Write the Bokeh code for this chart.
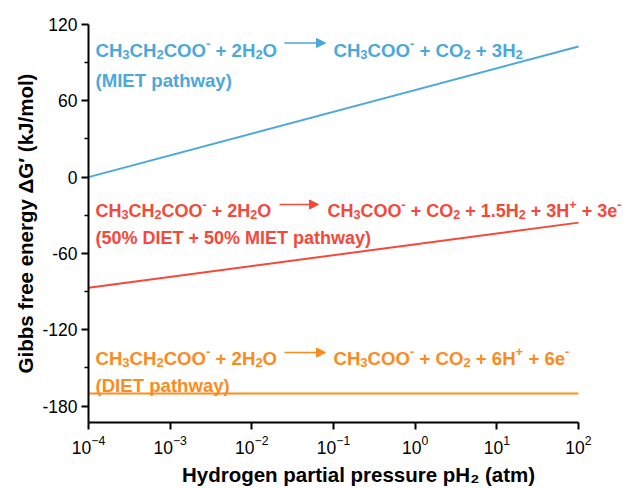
from bokeh.plotting import figure
from bokeh.models import Label, Arrow, NormalHead, FixedTicker, Range1d
from bokeh.embed import file_html
from bokeh.resources import INLINE

# ---- data ----
pH2 = [1e-4, 1e2]
dG_miet = [0.0, 102.7]
dG_mixed = [-87.0, -35.8]
dG_diet = [-170.2, -170.2]

x_ticks = [1e-4, 1e-3, 1e-2, 1e-1, 1e0, 1e1, 1e2]
y_ticks = [-180, -120, -60, 0, 60, 120]
y_tick_labels = ["-180", "-120", "-60", "0", "60", "120"]
y_minor = [-150, -90, -30, 30, 90]

# equations: "_x" = subscript char, "^x" = superscript char
lhs = "CH_3CH_2COO^- + 2H_2O"
rhs_miet = "CH_3COO^- + CO_2 + 3H_2"
rhs_mixed = "CH_3COO^- + CO_2 + 1.5H_2 + 3H^+ + 3e^-"
rhs_diet = "CH_3COO^- + CO_2 + 6H^+ + 6e^-"
name_miet = "(MIET pathway)"
name_mixed = "(50% DIET + 50% MIET pathway)"
name_diet = "(DIET pathway)"

BLUE = "#4ba8da"
RED = "#f5483b"
ORANGE = "#fd8b1c"
FONT = "Liberation Sans"

# Arial/Liberation Sans Bold advance widths (per 1000 em)
W = {" ": 278, "(": 333, ")": 333, "%": 889, "+": 584, "-": 333, ".": 278,
     "C": 722, "D": 722, "E": 667, "H": 722, "I": 278, "M": 833, "O": 778,
     "T": 611, "a": 556, "e": 556, "h": 611, "p": 611, "t": 333, "w": 778,
     "y": 556}
for d in "0123456789":
    W[d] = 556

X0, X1 = 1e-4, 1e2
L, R, T, B = 88, 578, 24, 422
PX_PER_UNIT = 1.2717
Y1 = 120
Y0 = Y1 - (B - T) / PX_PER_UNIT
X_END = 10 ** (-4 + (628 - L) * 6.0 / (R - L))

p = figure(width=628, height=488, x_axis_type="log",
           x_range=Range1d(X0, X_END), y_range=Range1d(Y0, Y1),
           output_backend="svg", toolbar_location=None,
           min_border_left=L, min_border_right=0,
           min_border_top=T, min_border_bottom=488 - B)
p.title.visible = False
p.outline_line_color = None
p.grid.visible = False
p.background_fill_color = "white"
p.border_fill_color = "white"

for ax in (p.xaxis[0], p.yaxis[0]):
    ax.axis_line_width = 2
    ax.major_tick_line_width = 2
    ax.minor_tick_line_width = 1.5
    ax.major_tick_in = 0
    ax.major_tick_out = 7
    ax.minor_tick_in = 0
    ax.minor_tick_out = 4
    ax.major_label_text_font = FONT
    ax.major_label_text_font_size = "17.5px"
    ax.major_label_text_color = "black"
    ax.axis_label_text_font = FONT
    ax.axis_label_text_font_size = "20.5px"
    ax.axis_label_text_font_style = "bold"
    ax.axis_label_text_color = "black"

p.xaxis.ticker = FixedTicker(ticks=x_ticks)
p.xaxis.bounds = (X0, X1)
p.xaxis.minor_tick_line_color = None
p.xaxis.major_label_standoff = 5
p.xaxis.axis_label = "Hydrogen partial pressure pH\u2082 (atm)"
p.xaxis.axis_label_standoff = 6

p.yaxis.ticker = FixedTicker(ticks=y_ticks, minor_ticks=y_minor)
p.yaxis.major_label_overrides = dict(zip(y_ticks, y_tick_labels))
p.yaxis.major_label_standoff = 4
p.yaxis.axis_label = "Gibbs free energy \u0394G\u2032 (kJ/mol)"
p.yaxis.axis_label_standoff = 2

p.line(pH2, dG_miet, line_color=BLUE, line_width=2)
p.line(pH2, dG_mixed, line_color=RED, line_width=2)
p.line(pH2, dG_diet, line_color=ORANGE, line_width=2)


def xd(px):
    return 10 ** (-4 + (px - L) * 6.0 / (R - L))


def yd(py):
    return Y1 - (py - T) / PX_PER_UNIT


def parse(s):
    segs = []
    i = 0
    while i < len(s):
        c = s[i]
        if c in "_^" and i + 1 < len(s):
            segs.append((s[i + 1], "sub" if c == "_" else "sup"))
            i += 2
        else:
            if segs and segs[-1][1] == "n":
                segs[-1] = (segs[-1][0] + c, "n")
            else:
                segs.append((c, "n"))
            i += 1
    return segs


def lab(text, px, py, color, size):
    p.add_layout(Label(x=xd(px), y=yd(py), text=text, text_color=color,
                       text_font=FONT, text_font_size=f"{size}px",
                       text_font_style="bold", text_baseline="alphabetic"))


def width(txt, fs):
    return sum(W.get(ch, 556) for ch in txt) * fs / 1000.0


def rich(s, px, py, color, size):
    x = px
    for txt, mode in parse(s):
        if mode == "n":
            fs, dy = size, 0.0
        elif mode == "sub":
            fs, dy = size * 0.7, size * 0.2
        else:
            fs, dy = size * 0.7, -size * 0.36
        core = txt.lstrip(" ")
        x += width(txt[:len(txt) - len(core)], fs)
        if core.strip():
            lab(core.rstrip(" "), x, py + dy, color, round(fs, 2))
        x += width(core, fs)


def arrow(px0, px1, py, color):
    p.add_layout(Arrow(end=NormalHead(size=9, fill_color=color, line_color=color,
                                      line_width=1),
                       line_color=color, line_width=1.5,
                       x_start=xd(px0), x_end=xd(px1), y_start=yd(py), y_end=yd(py)))


S_BIG, S_RED = 18.6, 18.0

rich(lhs, 95, 50, BLUE, S_BIG)
arrow(284, 325, 42.5, BLUE)
rich(rhs_miet, 333, 50, BLUE, S_BIG)
lab(name_miet, 95, 80, BLUE, S_BIG)

rich(lhs, 95, 210, RED, S_RED)
arrow(279, 318, 204, RED)
rich(rhs_mixed, 327, 210, RED, S_RED)
lab(name_mixed, 95, 237, RED, S_RED)

rich(lhs, 95, 358, ORANGE, S_BIG)
arrow(284, 325, 352, ORANGE)
rich(rhs_diet, 333, 358, ORANGE, S_BIG)
lab(name_diet, 95, 385, ORANGE, S_BIG)

open("out.html", "w").write(file_html(p, INLINE))
